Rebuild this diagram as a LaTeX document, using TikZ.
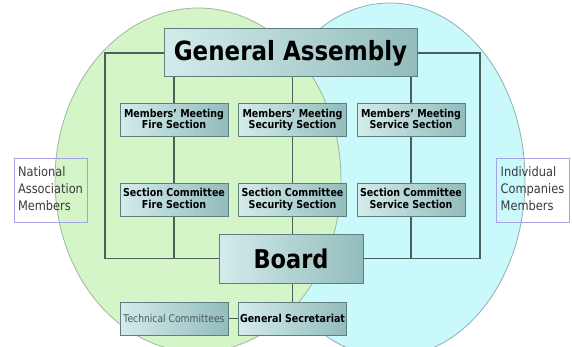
\documentclass[tikz,border=0pt]{standalone}
\usepackage{fontspec}
\setmainfont{DejaVu Sans}
\usepackage{graphicx}
\definecolor{gfill}{HTML}{D4F5C8}
\definecolor{gedge}{HTML}{9DB89A}
\definecolor{bfill}{HTML}{CAF9FC}
\definecolor{bedge}{HTML}{8FAEB2}
\definecolor{boxL}{HTML}{D3EBEB}
\definecolor{boxR}{HTML}{93BCBC}
\definecolor{boxD}{HTML}{5F7F7D}
\definecolor{lineC}{HTML}{4E5F5B}
\definecolor{sideC}{HTML}{A3A3E3}
\definecolor{textG}{HTML}{3A3A3A}
\definecolor{tcC}{HTML}{4A5858}
\newcommand{\vs}[1]{\scalebox{1}[1.15]{#1}}
\newcommand{\vtwo}[2]{\scalebox{1}[1.15]{\begin{tabular}{@{}c@{}}#1\\#2\end{tabular}}}
\newcommand{\vthree}[3]{\scalebox{1}[1.15]{\begin{tabular}{@{}l@{}}#1\\#2\\#3\end{tabular}}}
\tikzset{
  orgbox/.style={draw=boxD, line width=1pt, left color=boxL, right color=boxR,
    minimum width=108pt, minimum height=33pt, inner sep=0pt, text=black,
    font=\bfseries\fontsize{9.5}{9.8}\selectfont},
  bigbox/.style={orgbox, font=\bfseries\fontsize{23}{26}\selectfont},
  conn/.style={draw=lineC, line width=1.6pt},
  sidebox/.style={draw=sideC, line width=0.8pt, minimum width=73pt, minimum height=64pt,
    inner sep=0pt, text=textG, font=\fontsize{11.4}{14.8}\selectfont}
}
\begin{document}
\begin{tikzpicture}[x=1pt,y=-1pt]
\useasboundingbox (0,0) rectangle (572,347);
\begin{scope}
  \clip (0,0) rectangle (572,347);
  \draw[bedge, fill=bfill, line width=0.8pt] (390,180) ellipse [x radius=135pt, y radius=177pt];
  \draw[gedge, fill=gfill, line width=0.8pt] (198,180) ellipse [x radius=143pt, y radius=172pt];
\end{scope}

\node[sidebox] (nat) at (50.5,190) {\vthree{National}{Association}{Members}};
\node[sidebox] (ind) at (532.5,190) {\vthree{Individual}{Companies}{Members}};

\node[bigbox, minimum width=253pt, minimum height=48pt] (ga) at (290.5,53) {\vs{General Assembly}};

\node[orgbox] (mmf) at (174,120.5) {\vtwo{Members' Meeting}{Fire Section}};
\node[orgbox] (mms) at (292.5,120.5) {\vtwo{Members' Meeting}{Security Section}};
\node[orgbox] (mmv) at (411,120.5) {\vtwo{Members' Meeting}{Service Section}};

\node[orgbox] (scf) at (174,200) {\vtwo{Section Committee}{Fire Section}};
\node[orgbox] (scs) at (292.5,200) {\vtwo{Section Committee}{Security Section}};
\node[orgbox] (scv) at (411,200) {\vtwo{Section Committee}{Service Section}};

\node[bigbox, minimum width=144pt, minimum height=49pt, font=\bfseries\fontsize{22.5}{26}\selectfont] (board) at (291,258.5) {\vs{Board}};

\node[orgbox, font=\fontsize{9.2}{10}\selectfont, text=tcC] (tc) at (174,318.5) {\vs{Technical Committees}};
\node[orgbox] (gs) at (292.5,318.5) {\vs{General Secretariat}};

\coordinate (lx) at (105,0);
\coordinate (rx) at (480,0);

\draw[conn] (ga.west) -- (ga.west -| lx) -- (board.west -| lx) -- (board.west);
\draw[conn] (ga.east) -- (ga.east -| rx) -- (board.east -| rx) -- (board.east);

\draw[conn] (ga.south -| mmf.north) -- (mmf.north);
\draw[conn] (ga.south -| mms.north) -- (mms.north);
\draw[conn] (ga.south -| mmv.north) -- (mmv.north);

\draw[conn] (mmf.south) -- (scf.north);
\draw[conn] (mms.south) -- (scs.north);
\draw[conn] (mmv.south) -- (scv.north);

\draw[conn] (scf.south) -- (scf.south |- board.west);
\draw[conn] (scs.south) -- (scs.south |- board.north);
\draw[conn] (scv.south) -- (scv.south |- board.east);

\draw[conn] (board.south -| gs.north) -- (gs.north);
\draw[conn] (tc.east) -- (gs.west);
\end{tikzpicture}
\end{document}
